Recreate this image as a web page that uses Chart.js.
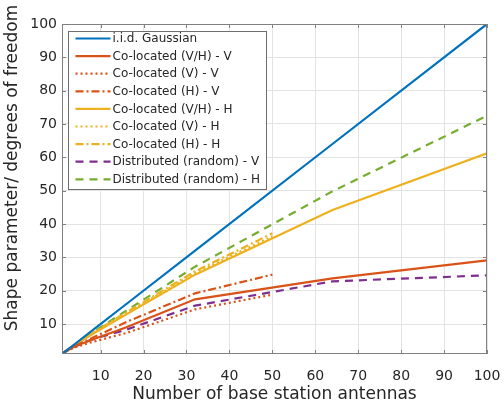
<!DOCTYPE html>
<html>
<head>
<meta charset="utf-8">
<script src="https://cdn.jsdelivr.net/npm/chart.js@4"></script>
<style>
  html, body { margin: 0; padding: 0; background: #fff; }
</style>
</head>
<body>
<canvas id="chart" width="504" height="409"></canvas>
<script>
// Number of base station antennas (x values)
const antennas = [1, 2, 4, 8, 16, 32, 64, 100];
const antennasShort = [1, 2, 4, 8, 16, 32, 50];

const xTicks = [10, 20, 30, 40, 50, 60, 70, 80, 90, 100];
const yTicks = [10, 20, 30, 40, 50, 60, 70, 80, 90, 100];

// Shape parameter / degrees of freedom
const iidGaussian = [1, 2, 4, 8, 16, 32, 64, 100];
const colocVHv = [1, 1.9, 3.3, 5.3, 9.0, 17.4, 23.7, 29.1];
const colocVv = [1, 1.8, 3.0, 4.6, 7.3, 14.4, 18.8];
const colocHv = [1, 1.9, 3.4, 5.8, 10.6, 19.2, 24.8];
const colocVHh = [1, 2, 3.7, 6.9, 12.9, 24.8, 44.2, 61.2];
const colocVh = [1, 2, 3.8, 7.0, 13.2, 25.3, 36.3];
const colocHh = [1, 2, 3.8, 7.2, 13.5, 25.8, 37.2];
const distV = [1, 1.9, 3.2, 5.4, 8.3, 15.5, 22.8, 24.6];
const distH = [1, 2, 3.8, 7.4, 14.0, 27.2, 49.8, 72.5];

const blue = "#0072BD";
const red = "#D95319";
const yellow = "#EDB120";
const purple = "#7E2F8E";
const green = "#77AC30";
const textColor = "#262626";
const font = "DejaVu Sans";

function pairs(xs, ys) {
  return ys.map((y, i) => ({ x: xs[i], y: y }));
}

function series(label, xs, ys, color, dash) {
  return {
    label: label,
    data: pairs(xs, ys),
    borderColor: color,
    backgroundColor: color,
    borderWidth: 2.2,
    borderDash: dash,
    pointRadius: 0,
    fill: false,
    tension: 0,
  };
}

const dotted = [2, 3];
const dashDot = [8, 3, 2, 3];
const dashed = [8, 6];

// Box, inward ticks, legend and y title drawn on top of the plot
const framePlugin = {
  id: "frame",
  afterDraw(chart) {
    const ctx = chart.ctx;
    const area = chart.chartArea;
    const xs = chart.scales.x;
    const ys = chart.scales.y;
    ctx.save();

    // axes box
    ctx.strokeStyle = "#808080";
    ctx.lineWidth = 1;
    ctx.setLineDash([]);
    ctx.strokeRect(area.left + 0.5, area.top + 0.5, area.right - area.left - 1, area.bottom - area.top - 1);

    // inward tick marks
    ctx.beginPath();
    xs.ticks.forEach((t) => {
      const px = Math.round(xs.getPixelForValue(t.value)) + 0.5;
      ctx.moveTo(px, area.bottom);
      ctx.lineTo(px, area.bottom - 4);
      ctx.moveTo(px, area.top);
      ctx.lineTo(px, area.top + 4);
    });
    ys.ticks.forEach((t) => {
      const py = Math.round(ys.getPixelForValue(t.value)) + 0.5;
      ctx.moveTo(area.left, py);
      ctx.lineTo(area.left + 4, py);
      ctx.moveTo(area.right, py);
      ctx.lineTo(area.right - 4, py);
    });
    ctx.stroke();

    // legend
    const bx = area.left + 6.5;
    const by = area.top + 7.5;
    const bw = 198;
    const bh = 158;
    ctx.fillStyle = "#fff";
    ctx.fillRect(bx, by, bw, bh);
    ctx.strokeStyle = "#6e6e6e";
    ctx.strokeRect(bx, by, bw, bh);
    ctx.font = "12px '" + font + "'";
    ctx.textBaseline = "middle";
    ctx.textAlign = "left";
    chart.data.datasets.forEach((ds, i) => {
      const ly = by + 7 + i * 17.6;
      ctx.strokeStyle = ds.borderColor;
      ctx.lineWidth = ds.borderWidth;
      ctx.setLineDash(ds.borderDash || []);
      ctx.beginPath();
      ctx.moveTo(bx + 7, ly);
      ctx.lineTo(bx + 42, ly);
      ctx.stroke();
      ctx.fillStyle = textColor;
      ctx.fillText(ds.label, bx + 44, ly + 0.5);
    });

    // y axis title
    ctx.setLineDash([]);
    ctx.translate(13, (area.top + area.bottom) / 2 - 21);
    ctx.rotate(-Math.PI / 2);
    ctx.textAlign = "center";
    ctx.font = "17px '" + font + "'";
    ctx.fillStyle = textColor;
    ctx.fillText("Shape parameter/ degrees of freedom", 0, 0);
    ctx.restore();
  },
};

new Chart(document.getElementById("chart"), {
  type: "line",
  data: {
    datasets: [
      series("i.i.d. Gaussian", antennas, iidGaussian, blue, []),
      series("Co-located (V/H) - V", antennas, colocVHv, red, []),
      series("Co-located (V) - V", antennasShort, colocVv, red, dotted),
      series("Co-located (H) - V", antennasShort, colocHv, red, dashDot),
      series("Co-located (V/H) - H", antennas, colocVHh, yellow, []),
      series("Co-located (V) - H", antennasShort, colocVh, yellow, dotted),
      series("Co-located (H) - H", antennasShort, colocHh, yellow, dashDot),
      series("Distributed (random) - V", antennas, distV, purple, dashed),
      series("Distributed (random) - H", antennas, distH, green, dashed),
    ],
  },
  options: {
    responsive: false,
    animation: false,
    layout: { padding: { top: 24, right: 17, left: 0, bottom: 0 } },
    plugins: {
      legend: { display: false },
      tooltip: { enabled: false },
    },
    scales: {
      x: {
        type: "linear",
        min: 1,
        max: 100,
        afterBuildTicks: (axis) => {
          axis.ticks = xTicks.map((v) => ({ value: v }));
        },
        afterFit: (axis) => {
          axis.height = 55;
          axis.paddingLeft = 0;
          axis.paddingRight = 0;
        },
        grid: { color: "#e3e3e3", drawTicks: false },
        border: { display: false },
        ticks: {
          padding: 14,
          color: textColor,
          font: { family: font, size: 14 },
          maxRotation: 0,
        },
        title: {
          display: true,
          text: "Number of base station antennas",
          color: textColor,
          font: { family: font, size: 17 },
          padding: { top: 0, bottom: 4 },
        },
      },
      y: {
        type: "linear",
        min: 1,
        max: 100,
        afterBuildTicks: (axis) => {
          axis.ticks = yTicks.map((v) => ({ value: v }));
        },
        afterFit: (axis) => {
          axis.width = 62;
          axis.paddingTop = 0;
          axis.paddingBottom = 0;
        },
        grid: { color: "#e3e3e3", drawTicks: false },
        border: { display: false },
        ticks: {
          padding: 5,
          color: textColor,
          font: { family: font, size: 14 },
        },
      },
    },
  },
  plugins: [framePlugin],
});
</script>
</body>
</html>
